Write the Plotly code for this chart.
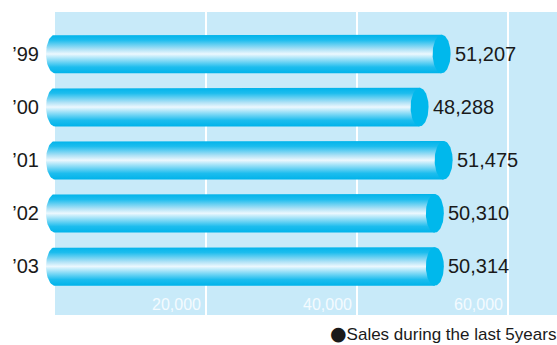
import numpy as np
import plotly.graph_objects as go

# ---- data ----
years = ["’99", "’00", "’01", "’02", "’03"]
sales = [51207, 48288, 51475, 50310, 50314]
x_ticks = [20000, 40000, 60000]
x_tick_labels = ["20,000", "40,000", "60,000"]
footer_bullet = "●"
footer_text = "Sales during the last 5years"

# ---- style ----
FONT = "Liberation Sans, Arial, Helvetica, sans-serif"
BG_BLUE = "#c8eaf9"
CAP = "#00b8ec"
GRAD = [[0.0, "#00b3ea"], [0.16, "#1dbdee"], [0.5, "#ecf8fe"],
        [0.62, "#b0e2f6"], [0.86, "#1dbdee"], [1.0, "#00b3ea"]]

X_MIN, X_MAX = -1987, 66490
Y_RANGE = [4.915, -0.791]
HALF_H = 0.363          # half bar thickness (category units)
CAP_A = 1190            # half-width of the elliptical caps (data units)

fig = go.Figure()

t_half = np.linspace(-np.pi / 2, np.pi / 2, 40)
t_full = np.linspace(0, 2 * np.pi, 80)

for i, v in enumerate(sales):
    # cylinder body with the rear (left) half-ellipse
    lx = -CAP_A * np.cos(t_half)
    ly = i + HALF_H * np.sin(t_half)
    xs = np.concatenate([[v], lx, [v]])
    ys = np.concatenate([[i - HALF_H], ly, [i + HALF_H]])
    fig.add_trace(go.Scatter(
        x=xs, y=ys, mode="lines", fill="toself",
        line=dict(width=0), fillgradient=dict(type="vertical", colorscale=GRAD),
        hoverinfo="skip", showlegend=False))
    # front (right) elliptical face
    fig.add_trace(go.Scatter(
        x=v + CAP_A * np.cos(t_full), y=i + HALF_H * np.sin(t_full),
        mode="lines", fill="toself", fillcolor=CAP, line=dict(width=0),
        hoverinfo="skip", showlegend=False))
    fig.add_annotation(
        x=v, y=i, xref="x", yref="y", text=f"{v:,}", showarrow=False,
        xanchor="left", yanchor="middle", xshift=11,
        font=dict(family=FONT, size=20, color="#1a1a1a"))

# x tick labels drawn inside the panel, right-aligned to their gridline
for tv, tl in zip(x_ticks, x_tick_labels):
    fig.add_annotation(
        x=tv, y=0, xref="x", yref="paper", text=tl, showarrow=False,
        xanchor="right", yanchor="bottom", xshift=-3, yshift=0,
        font=dict(family=FONT, size=16, color="#f4fbff"))

# light-blue panel starting at zero
fig.add_shape(type="rect", xref="x", yref="paper", x0=0, x1=X_MAX,
              y0=0, y1=1, fillcolor=BG_BLUE, line=dict(width=0), layer="below")

fig.add_annotation(
    x=1, y=-0.060, xref="paper", yref="paper",
    text=(f"<span style=\"font-family:'DejaVu Sans';font-size:19px\">"
          f"{footer_bullet}</span>{footer_text}"),
    showarrow=False, xanchor="right", yanchor="middle", xshift=1,
    font=dict(family=FONT, size=17, color="#1a1a1a"))

fig.update_xaxes(
    range=[X_MIN, X_MAX], tickvals=x_ticks, showticklabels=False,
    ticks="", showgrid=True, gridcolor="white", gridwidth=2,
    zeroline=False, showline=False, fixedrange=True)
fig.update_yaxes(
    range=Y_RANGE, tickvals=list(range(len(years))), ticktext=years,
    ticks="", showgrid=False, zeroline=False, showline=False,
    tickfont=dict(family=FONT, size=20, color="#1a1a1a"), fixedrange=True)

fig.update_layout(
    width=557, height=345, margin=dict(l=40, r=0, t=12, b=30),
    paper_bgcolor="white", plot_bgcolor="white", showlegend=False,
    font=dict(family=FONT))

fig.write_html("out.html", config={"displayModeBar": False})
